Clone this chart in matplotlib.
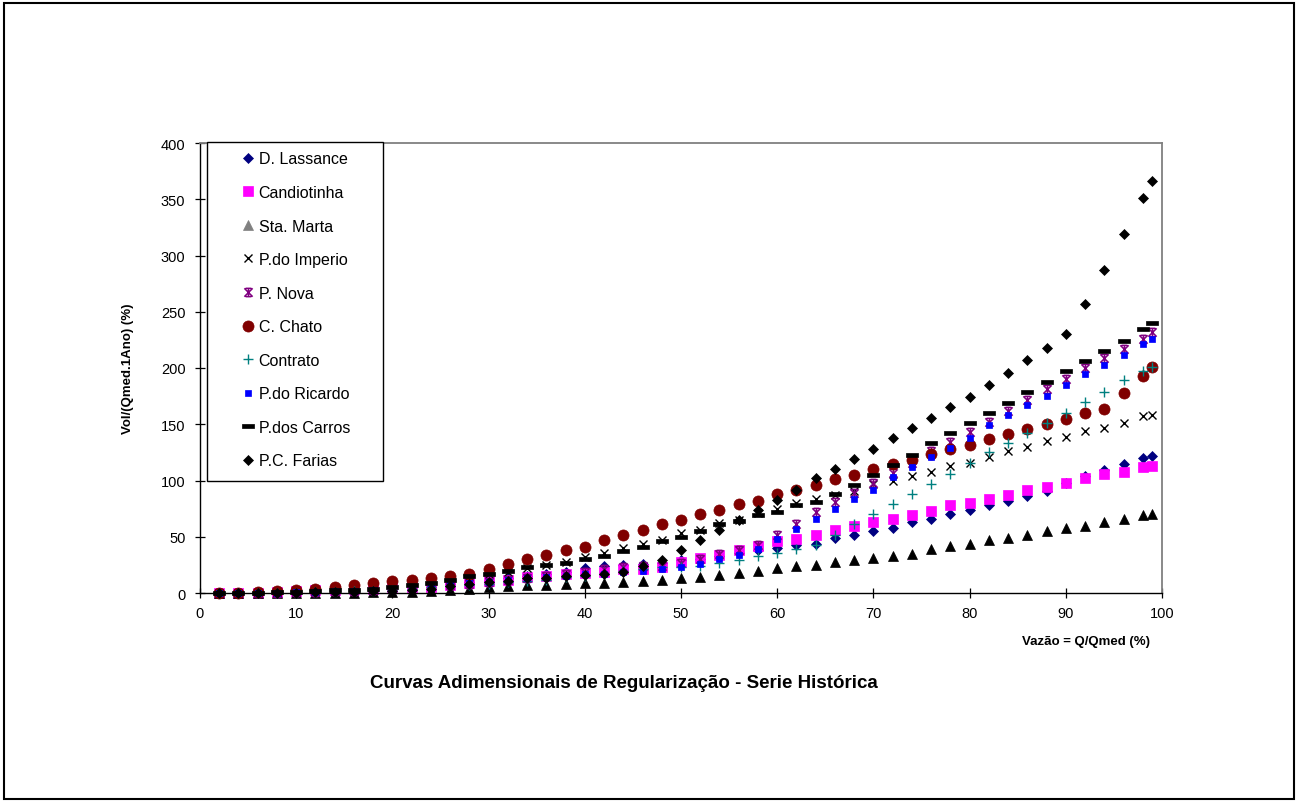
import matplotlib
matplotlib.use("Agg")
import matplotlib.pyplot as plt
from matplotlib.path import Path
from matplotlib.patches import Rectangle

plt.rcParams["font.family"] = ["Liberation Sans", "DejaVu Sans"]

# Flow as a fraction of the mean flow (%)
vazao = [2, 4, 6, 8, 10, 12, 14, 16, 18, 20, 22, 24, 26, 28, 30, 32, 34, 36, 38, 40,
         42, 44, 46, 48, 50, 52, 54, 56, 58, 60, 62, 64, 66, 68, 70, 72, 74, 76, 78, 80,
         82, 84, 86, 88, 90, 92, 94, 96, 98, 99]

# Required storage Vol/(Qmed.1Ano) (%) for each reservoir
d_lassance = [0, 0, 0, 1, 1, 2, 3, 3, 4, 5, 6, 7, 8, 10, 11, 13, 15, 17, 19, 22,
              24, 25, 26, 27, 29, 30, 33, 36, 38, 40, 43, 44, 49, 52, 55, 58, 63, 66, 70, 74,
              78, 82, 86, 91, 98, 104, 109, 115, 120, 122]
candiotinha = [0, 0, 0, 1, 2, 3, 3, 4, 4, 5, 5, 5, 7, 9, 11, 12, 14, 15, 17, 18,
               19, 21, 21, 23, 28, 31, 34, 38, 42, 46, 48, 52, 56, 60, 63, 66, 69, 73, 78, 80,
               84, 87, 92, 94, 98, 102, 106, 108, 112, 113]
sta_marta = [0, 0, 0, 0, 0, 0, 0, 0, 1, 1, 1, 2, 3, 4, 5, 6, 7, 7, 8, 9,
             9, 10, 11, 12, 13, 14, 16, 18, 20, 22, 24, 25, 28, 29, 31, 33, 35, 39, 42, 44,
             47, 49, 52, 55, 58, 60, 63, 66, 69, 70]
p_do_imperio = [0, 0, 0, 1, 1, 2, 3, 3, 4, 5, 7, 9, 12, 15, 17, 19, 22, 25, 28, 32,
                36, 40, 44, 47, 53, 56, 62, 65, 71, 75, 80, 84, 87, 91, 97, 100, 104, 108, 113, 116,
                121, 126, 130, 135, 139, 144, 147, 151, 157, 158]
p_nova = [0, 0, 0, 0, 1, 1, 2, 2, 3, 4, 5, 6, 7, 8, 10, 12, 13, 15, 17, 19,
          21, 23, 24, 24, 27, 30, 35, 38, 43, 52, 61, 72, 81, 89, 98, 107, 116, 126, 134, 143,
          152, 162, 172, 181, 190, 200, 209, 217, 226, 232]
c_chato = [0, 0, 1, 2, 3, 4, 5, 7, 9, 11, 12, 13, 15, 17, 21, 26, 30, 34, 38, 41,
           47, 52, 56, 61, 65, 70, 74, 79, 82, 88, 92, 96, 101, 105, 110, 115, 118, 124, 128, 132,
           137, 141, 146, 150, 155, 160, 164, 178, 193, 201]
contrato = [0, 0, 0, 0, 0, 1, 1, 2, 2, 3, 4, 5, 6, 7, 8, 10, 11, 12, 14, 15,
            17, 20, 21, 23, 23, 24, 27, 29, 33, 36, 39, 43, 52, 61, 70, 79, 88, 97, 106, 116,
            125, 133, 142, 151, 160, 170, 179, 189, 197, 201]
p_do_ricardo = [0, 0, 0, 0, 1, 1, 2, 2, 3, 4, 5, 6, 8, 9, 10, 12, 13, 14, 15, 17,
                17, 19, 20, 21, 23, 26, 30, 34, 39, 48, 57, 66, 75, 84, 92, 103, 112, 121, 129, 138,
                149, 158, 167, 175, 185, 195, 203, 212, 221, 226]
p_dos_carros = [0, 0, 0, 1, 1, 2, 3, 3, 4, 5, 7, 9, 12, 15, 17, 20, 23, 25, 27, 30,
                33, 37, 41, 46, 50, 55, 61, 64, 69, 72, 78, 81, 88, 96, 105, 114, 123, 133, 142, 151,
                160, 169, 179, 188, 197, 206, 215, 224, 235, 240]
pc_farias = [0, 0, 0, 0, 0, 1, 1, 1, 2, 2, 3, 4, 6, 8, 10, 11, 13, 13, 15, 16,
             17, 19, 24, 29, 38, 47, 56, 65, 74, 83, 92, 102, 110, 119, 128, 138, 147, 156, 165, 174,
             185, 196, 207, 218, 230, 257, 287, 319, 351, 366]

x_ticks = list(range(0, 101, 10))
y_ticks = list(range(0, 401, 50))

# Marker shapes: a horizontal dash and an asterisk-like star
dash_marker = Path([(-1, -0.32), (1, -0.32), (1, 0.32), (-1, 0.32), (-1, -0.32)],
                   [Path.MOVETO, Path.LINETO, Path.LINETO, Path.LINETO, Path.CLOSEPOLY])
star_marker = Path([(-1, -1), (1, 1), (-1, 1), (1, -1), (0, -1), (0, 1),
                    (-0.7, 1), (0.7, 1), (-0.7, -1), (0.7, -1)],
                   [Path.MOVETO, Path.LINETO, Path.MOVETO, Path.LINETO, Path.MOVETO, Path.LINETO,
                    Path.MOVETO, Path.LINETO, Path.MOVETO, Path.LINETO])

W, H = 1298, 804
fig = plt.figure(figsize=(W / 100, H / 100), dpi=100)
fig.patch.set_facecolor("white")

# Plot area in pixel terms: x 200..1162, y 144..594
ax = fig.add_axes([200 / W, 1 - 594 / H, 962 / W, 450 / H])

series = [
    ("D. Lassance", d_lassance, dict(marker="D", ms=4.6, mfc="#000080", mec="#000080", mew=0.5)),
    ("Candiotinha", candiotinha, dict(marker="s", ms=7.0, mfc="#FF00FF", mec="#FF00FF", mew=0.5)),
    ("Sta. Marta", sta_marta, dict(marker="^", ms=7.2, mfc="#000000", mec="#000000", mew=0.5)),
    ("P.do Imperio", p_do_imperio, dict(marker="x", ms=6.2, mec="#000000", mew=1.0)),
    ("P. Nova", p_nova, dict(marker=star_marker, ms=6.0, mfc="none", mec="#800080", mew=1.1)),
    ("C. Chato", c_chato, dict(marker="o", ms=8.0, mfc="#800000", mec="#800000", mew=0.5)),
    ("Contrato", contrato, dict(marker="+", ms=6.8, mec="#008080", mew=1.0)),
    ("P.do Ricardo", p_do_ricardo, dict(marker="s", ms=4.4, mfc="#0000FF", mec="#0000FF", mew=0.5)),
    ("P.dos Carros", p_dos_carros, dict(marker=dash_marker, ms=8.8, mfc="#000000", mec="#000000", mew=0.5)),
    ("P.C. Farias", pc_farias, dict(marker="D", ms=5.2, mfc="#000000", mec="#000000", mew=0.5)),
]

for label, values, style in series:
    ax.plot(vazao, values, linestyle="none", label=label, clip_on=False, zorder=2, **style)

ax.set_xlim(0, 100)
ax.set_ylim(0, 400)
ax.set_xticks(x_ticks)
ax.set_yticks(y_ticks)
ax.tick_params(axis="both", direction="inout", length=7, width=0.9, labelsize=10.5,
               colors="#000000")
ax.tick_params(axis="x", pad=6)
ax.tick_params(axis="y", pad=7)
for side in ("left", "bottom"):
    ax.spines[side].set_color("#000000")
    ax.spines[side].set_linewidth(1.0)
for side in ("top", "right"):
    ax.spines[side].set_color("#808080")
    ax.spines[side].set_linewidth(1.3)

# Legend box drawn as its own rectangle, entries placed inside it
ax.add_patch(Rectangle((207 / W, 1 - 482 / H), 176 / W, 339 / H,
                       transform=fig.transFigure, facecolor="white",
                       edgecolor="#000000", linewidth=1.0, zorder=4, clip_on=False))
leg = ax.legend(loc="upper left", bbox_to_anchor=(240.4 / W, 1 - 152.5 / H),
                bbox_transform=fig.transFigure, frameon=False, borderpad=0,
                borderaxespad=0, handlelength=1.0, handletextpad=0.14,
                labelspacing=1.16, fontsize=11.5, numpoints=1)
leg.set_zorder(5)
leg.legend_handles[2].set_markerfacecolor("#808080")
leg.legend_handles[2].set_markeredgecolor("#808080")

fig.text(128 / W, 1 - 369 / H, "Vol/(Qmed.1Ano) (%)", rotation=90, ha="center",
         va="center", fontsize=9.5, fontweight="bold")
fig.text(1150 / W, 1 - 642 / H, "Vazão = Q/Qmed (%)", ha="right", va="center",
         fontsize=9.5, fontweight="bold")
fig.text(624 / W, 1 - 684 / H, "Curvas Adimensionais de Regularização - Serie Histórica",
         ha="center", va="center", fontsize=13.5, fontweight="bold")

# Outer chart border
fig.patches.append(Rectangle((4 / W, 4 / H), 1290 / W, 796 / H, transform=fig.transFigure,
                             facecolor="none", edgecolor="#000000", linewidth=1.5))

fig.savefig("out.png", dpi=100)
